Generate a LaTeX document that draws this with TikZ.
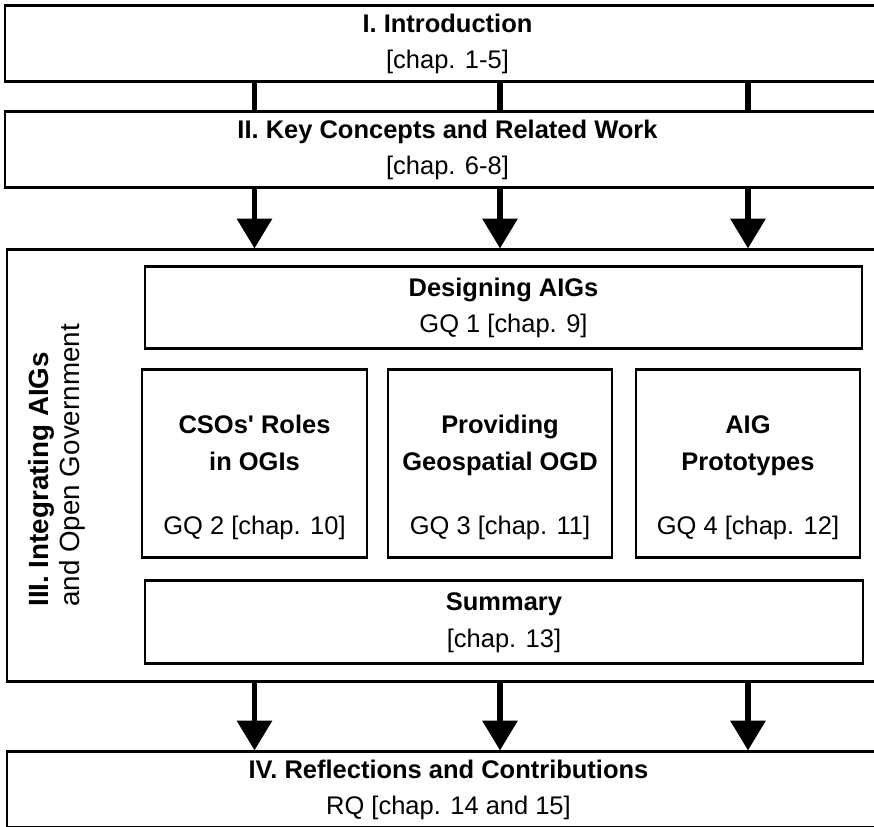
\documentclass[tikz,border=0pt]{standalone}
\usepackage{fontspec}
\setmainfont{Liberation Sans}
\usetikzlibrary{arrows.meta}

\newcommand{\toppad}{\rule{0pt}{26pt}}

\tikzset{
  part/.style={draw, line width=1.7pt, minimum width=17.7cm, minimum height=1.52cm,
    align=center, inner sep=0pt},
  chapbox/.style={draw, line width=1.7pt, align=center, inner sep=0pt},
  link/.style={line width=3.4pt},
  flow/.style={line width=3.4pt, -{Triangle[width=19.4pt,length=17pt]}}
}

\begin{document}
\begin{tikzpicture}[font=\fontsize{14.5}{20.8}\selectfont]
  \useasboundingbox (0,0) rectangle (17.48,16.54);
  % outer parts
  \node[part] (intro) at (8.95,15.66) {\textbf{I. Introduction}\\{[chap. 1-5]}};
  \node[part] (related) at (8.95,13.54) {\textbf{II. Key Concepts and Related Work}\\{[chap. 6-8]}};
  \node[part, minimum width=17.66cm, minimum height=8.64cm] (core) at (8.97,7.22) {};
  \node[part, minimum width=17.66cm] (reflect) at (8.97,0.74) {\textbf{IV. Reflections and Contributions}\\RQ {[chap. 14 and 15]}};
  \node[rotate=90, anchor=west, align=left, inner sep=0pt,
    font=\fontsize{15.8}{17.6}\selectfont] (coretitle) at (1.14,4.4)
    {\textbf{III. Integrating AIGs}\\and Open Government};
  % inner chapters
  \node[chapbox, minimum width=14.34cm, minimum height=1.64cm] (design) at (10.07,10.38)
    {\textbf{Designing AIGs}\\GQ 1 {[chap. 9]}};
  \node[chapbox, minimum width=4.5cm, minimum height=3.76cm] (cso) at (5.09,7.26)
    {\toppad\textbf{CSOs\textquotesingle{} Roles}\\\textbf{in OGIs}\\[16pt]GQ 2 {[chap. 10]}};
  \node[chapbox, minimum width=4.48cm, minimum height=3.76cm] (geo) at (10.0,7.26)
    {\toppad\textbf{Providing}\\\textbf{Geospatial OGD}\\[16pt]GQ 3 {[chap. 11]}};
  \node[chapbox, minimum width=4.48cm, minimum height=3.76cm] (proto) at (14.96,7.26)
    {\toppad\textbf{AIG}\\\textbf{Prototypes}\\[16pt]GQ 4 {[chap. 12]}};
  \node[chapbox, minimum width=14.36cm, minimum height=1.66cm] (summary) at (10.08,4.09)
    {\textbf{Summary}\\{[chap. 13]}};
  % connectors
  \foreach \c in {cso,geo,proto} {
    \draw[link] (intro.south -| \c) -- (related.north -| \c);
    \draw[flow] (related.south -| \c) -- (core.north -| \c);
    \draw[flow] (core.south -| \c) -- (reflect.north -| \c);
  }
\end{tikzpicture}
\end{document}
